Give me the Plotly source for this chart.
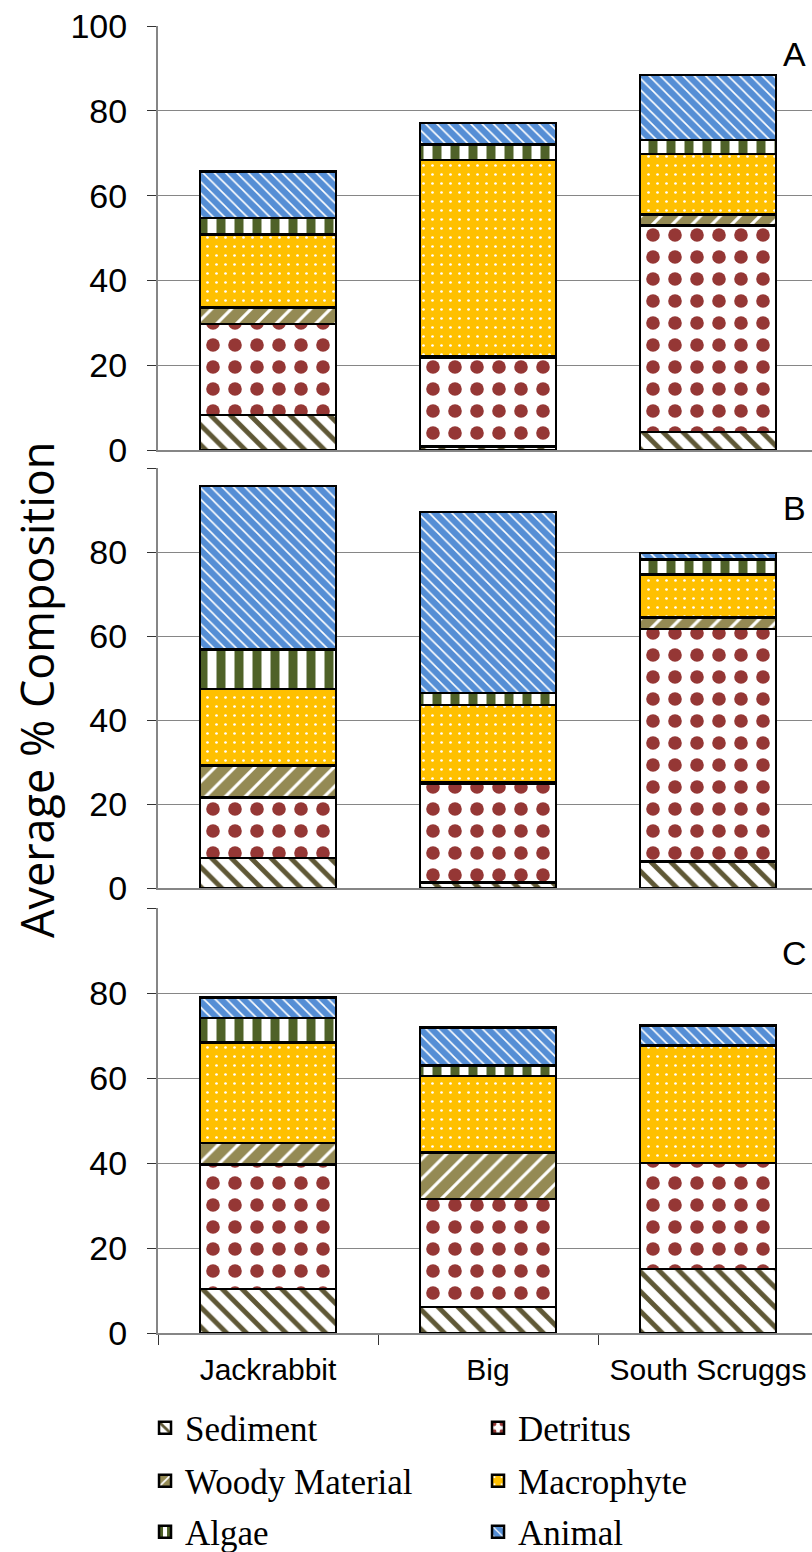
import plotly.graph_objects as go

# ---------------- data ----------------
sites = ["Jackrabbit", "Big", "South Scruggs"]
components = ["Sediment", "Detritus", "Woody Material", "Macrophyte", "Algae", "Animal"]

# Panel A
a_sediment = [8.3, 0.8, 4.2]
a_detritus = [21.4, 20.9, 48.8]
a_woody = [3.9, 0.3, 2.5]
a_macrophyte = [17.2, 46.4, 14.3]
a_algae = [3.9, 3.7, 3.3]
a_animal = [11.0, 5.0, 15.4]

# Panel B
b_sediment = [7.1, 1.3, 6.3]
b_detritus = [14.4, 23.5, 55.4]
b_woody = [7.7, 0.3, 2.7]
b_macrophyte = [18.2, 18.5, 10.2]
b_algae = [9.4, 2.8, 3.6]
b_animal = [38.9, 43.1, 1.6]

# Panel C
c_sediment = [10.4, 6.1, 15.1]
c_detritus = [29.2, 25.4, 24.9]
c_woody = [5.1, 11.0, 0.0]
c_macrophyte = [23.7, 18.0, 27.6]
c_algae = [5.7, 2.5, 0.0]
c_animal = [4.9, 8.9, 4.8]

panel_labels = ["A", "B", "C"]
y_ticks = [0, 20, 40, 60, 80, 100]

panels = [
    [a_sediment, a_detritus, a_woody, a_macrophyte, a_algae, a_animal],
    [b_sediment, b_detritus, b_woody, b_macrophyte, b_algae, b_animal],
    [c_sediment, c_detritus, c_woody, c_macrophyte, c_algae, c_animal],
]

# ---------------- styles ----------------
styles = {
    "Sediment": dict(shape="\\", fg="#5F5836", bg="#FFFFFF", size=14, solidity=0.35),
    "Detritus": dict(shape=".", fg="#953735", bg="#FFFFFF", size=22, solidity=0.30),
    "Woody Material": dict(shape="/", fg="#FFFFFF", bg="#948A54", size=14, solidity=0.22),
    "Macrophyte": dict(shape=".", fg="#FFFFFF", bg="#FFC000", size=9, solidity=0.07),
    "Algae": dict(shape="|", fg="#4F6228", bg="#FFFFFF", size=18, solidity=0.5),
    "Animal": dict(shape="\\", fg="#FFFFFF", bg="#558ED5", size=8, solidity=0.2),
}
legend_of = {
    "Sediment": "legend", "Detritus": "legend",
    "Woody Material": "legend2", "Macrophyte": "legend2",
    "Algae": "legend3", "Animal": "legend3",
}

W, H = 812, 1552
# pixel geometry (top, bottom) of each panel's 0-100 range
panel_px = [(26, 450), (468, 888), (908, 1333)]
x_left_px = 158

fig = go.Figure()
for p, series in enumerate(panels):
    xa = "x" if p == 0 else f"x{p+1}"
    ya = "y" if p == 0 else f"y{p+1}"
    for name, vals in zip(components, series):
        st = styles[name]
        fig.add_trace(go.Bar(
            x=sites, y=vals, name=name,
            xaxis=xa, yaxis=ya,
            legendgroup=name, showlegend=(p == 0),
            legend=legend_of[name],
            marker=dict(
                color=st["bg"],
                line=dict(color="black", width=2.5),
                pattern=dict(shape=st["shape"], fgcolor=st["fg"], bgcolor=st["bg"],
                             size=st["size"], solidity=st["solidity"], fillmode="replace"),
            ),
        ))

grid_col = "#868686"
x_range = [-0.5, 2.5 - 6 / 220]
layout = dict(
    width=W, height=H,
    margin=dict(l=0, r=0, t=0, b=0, autoexpand=False),
    paper_bgcolor="white", plot_bgcolor="white",
    barmode="stack", bargap=0.382,
    showlegend=True,
)
annotations = []
for p in range(3):
    top, bot = panel_px[p]
    sfx = "" if p == 0 else str(p + 1)
    layout[f"xaxis{sfx}"] = dict(
        domain=[x_left_px / W, 1.0], range=x_range, anchor=f"y{sfx}",
        showline=True, linecolor=grid_col, linewidth=2,
        showgrid=False, zeroline=False,
        showticklabels=(p == 2),
        ticks="outside" if p == 2 else "", ticklen=10, tickcolor="#333333",
        tickson="boundaries",
        tickfont=dict(family="Liberation Sans, Arial", size=30, color="black"),
        ticklabelstandoff=9,
        fixedrange=True,
    )
    ticktext = [str(v) for v in y_ticks] if p == 0 else [str(v) for v in y_ticks[:-1]] + [""]
    layout[f"yaxis{sfx}"] = dict(
        domain=[1 - bot / H, 1 - top / H], range=[0, 100], anchor=f"x{sfx}",
        tickvals=y_ticks, ticktext=ticktext,
        showline=True, linecolor=grid_col, linewidth=2,
        showgrid=True, gridcolor=grid_col, gridwidth=1.2,
        zeroline=False,
        ticks="outside", ticklen=9, tickcolor="#333333",
        tickfont=dict(family="Liberation Sans, Arial", size=34, color="black"),
        ticklabelstandoff=13,
        fixedrange=True,
    )
    label_y = [93.5, 90.5, 89.5][p]
    annotations.append(dict(
        x=2.395, y=label_y, xref=f"x{sfx}", yref=f"y{sfx}",
        text=panel_labels[p], showarrow=False, xanchor="center", yanchor="middle",
        font=dict(family="Liberation Sans, Arial", size=34, color="black"),
    ))

annotations.append(dict(
    x=36 / W, y=1 - 690 / H, xref="paper", yref="paper",
    text="Average % Composition", textangle=-90, showarrow=False,
    xanchor="center", yanchor="middle",
    font=dict(family="Open Sans", size=45, color="black"),
))
layout["annotations"] = annotations

legend_rows_px = [1428, 1481, 1532]
for i, key in enumerate(["legend", "legend2", "legend3"]):
    layout[key] = dict(
        orientation="h", x=0.1786, xanchor="left",
        y=1 - legend_rows_px[i] / H, yanchor="middle",
        font=dict(family="Liberation Serif, Times New Roman", size=35, color="black"),
        entrywidth=288, entrywidthmode="pixels",
        bgcolor="rgba(0,0,0,0)", traceorder="normal",
    )

fig.update_layout(**layout)
fig.write_html("out.html")
